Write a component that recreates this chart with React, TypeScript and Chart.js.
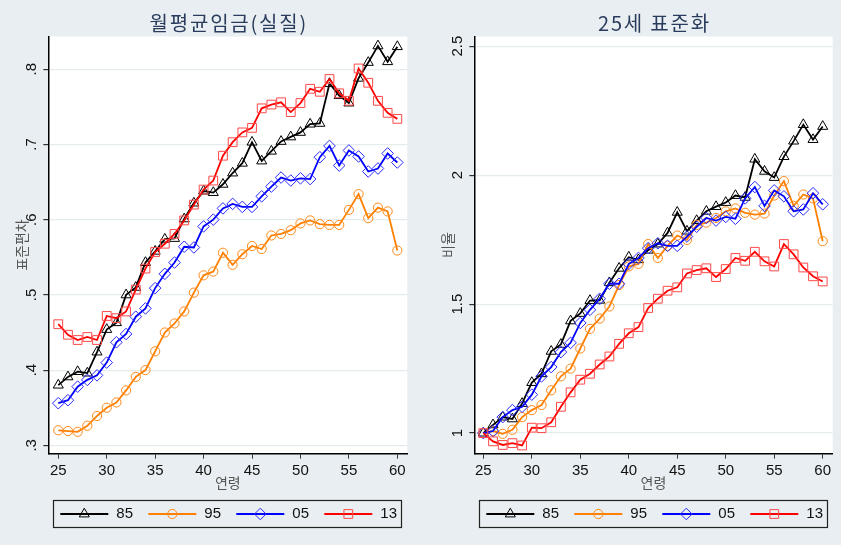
import React, { useEffect, useRef } from 'react';
import { Chart, registerables } from 'chart.js';

Chart.register(...registerables);

// ---------- data ----------
const ages = [25, 26, 27, 28, 29, 30, 31, 32, 33, 34, 35, 36, 37, 38, 39, 40, 41, 42, 43, 44, 45, 46, 47, 48, 49, 50, 51, 52, 53, 54, 55, 56, 57, 58, 59, 60];
const xTicks = [25, 30, 35, 40, 45, 50, 55, 60];

const seriesNames = ['85', '95', '05', '13'];

// left panel: 월평균임금(실질) 표준편차
const sd85 = [0.380, 0.391, 0.398, 0.396, 0.424, 0.454, 0.463, 0.500, 0.510, 0.543, 0.558, 0.574, 0.575, 0.601, 0.622, 0.638, 0.636, 0.647, 0.662, 0.675, 0.703, 0.678, 0.691, 0.704, 0.710, 0.716, 0.727, 0.728, 0.781, 0.765, 0.755, 0.788, 0.809, 0.831, 0.810, 0.830];
const sd95 = [0.320, 0.319, 0.318, 0.326, 0.339, 0.350, 0.357, 0.373, 0.391, 0.400, 0.425, 0.450, 0.462, 0.478, 0.503, 0.526, 0.531, 0.556, 0.540, 0.554, 0.565, 0.561, 0.579, 0.581, 0.586, 0.595, 0.599, 0.594, 0.593, 0.593, 0.613, 0.634, 0.602, 0.616, 0.611, 0.559];
const sd05 = [0.356, 0.360, 0.378, 0.387, 0.393, 0.410, 0.437, 0.448, 0.471, 0.482, 0.509, 0.528, 0.543, 0.564, 0.563, 0.591, 0.600, 0.615, 0.621, 0.617, 0.617, 0.631, 0.644, 0.656, 0.652, 0.655, 0.654, 0.683, 0.698, 0.672, 0.692, 0.684, 0.664, 0.668, 0.688, 0.676];
const sd13 = [0.461, 0.447, 0.440, 0.444, 0.440, 0.472, 0.469, 0.478, 0.507, 0.535, 0.557, 0.568, 0.581, 0.599, 0.620, 0.640, 0.652, 0.685, 0.703, 0.716, 0.722, 0.748, 0.753, 0.756, 0.743, 0.755, 0.774, 0.770, 0.787, 0.768, 0.758, 0.801, 0.782, 0.758, 0.742, 0.734];

// right panel: 25세 표준화 비율
const r85 = [1.000, 1.032, 1.062, 1.055, 1.115, 1.196, 1.230, 1.317, 1.344, 1.435, 1.464, 1.514, 1.515, 1.583, 1.639, 1.682, 1.672, 1.709, 1.733, 1.776, 1.856, 1.783, 1.824, 1.860, 1.878, 1.894, 1.921, 1.914, 2.062, 2.015, 1.991, 2.072, 2.132, 2.196, 2.138, 2.189];
const r95 = [1.000, 1.008, 0.997, 1.013, 1.062, 1.089, 1.109, 1.166, 1.220, 1.250, 1.328, 1.404, 1.444, 1.491, 1.574, 1.646, 1.656, 1.733, 1.679, 1.726, 1.766, 1.749, 1.807, 1.816, 1.834, 1.860, 1.871, 1.854, 1.847, 1.851, 1.921, 1.977, 1.881, 1.925, 1.910, 1.744];
const r05 = [1.000, 1.008, 1.062, 1.089, 1.102, 1.149, 1.220, 1.256, 1.314, 1.350, 1.427, 1.478, 1.521, 1.579, 1.579, 1.656, 1.679, 1.717, 1.736, 1.726, 1.726, 1.762, 1.800, 1.834, 1.824, 1.838, 1.831, 1.910, 1.954, 1.881, 1.941, 1.918, 1.860, 1.867, 1.930, 1.887];
const r13 = [1.000, 0.968, 0.954, 0.961, 0.952, 1.021, 1.019, 1.042, 1.102, 1.158, 1.207, 1.230, 1.266, 1.297, 1.346, 1.387, 1.411, 1.485, 1.521, 1.552, 1.565, 1.619, 1.632, 1.639, 1.605, 1.636, 1.679, 1.668, 1.703, 1.666, 1.646, 1.733, 1.693, 1.642, 1.608, 1.588];

const leftYTicks = [0.3, 0.4, 0.5, 0.6, 0.7, 0.8];
const leftYTickLabels = ['.3', '.4', '.5', '.6', '.7', '.8'];
const rightYTicks = [1, 1.5, 2, 2.5];
const rightYTickLabels = ['1', '1.5', '2', '2.5'];

// ---------- styles ----------
const BG = '#e8eef1';
const GRID = '#e4ecee';
const LINE_COLORS = ['#000000', '#ff8000', '#0000ff', '#ff0000'];
const MARKER_COLORS = ['#000000', '#ff8a1a', '#2a2aff', '#ff4848'];
const POINT_STYLES = ['triangle', 'circle', 'rectRot', 'rect'];
const POINT_RADII = [5.8, 4.6, 5.8, 6.2];
const NUM_FONT = '"Liberation Sans", Arial, sans-serif';
const KR_FONT = '"Noto Sans CJK KR", "Noto Sans", sans-serif';

function drawMarker(ctx: CanvasRenderingContext2D, style: string, x: number, y: number, r: number) {
  ctx.beginPath();
  if (style === 'triangle') {
    for (let k = 0; k < 3; k++) {
      const a = (k * 2 * Math.PI) / 3;
      const px = x + Math.sin(a) * r;
      const py = y - Math.cos(a) * r;
      if (k === 0) ctx.moveTo(px, py); else ctx.lineTo(px, py);
    }
    ctx.closePath();
  } else if (style === 'circle') {
    ctx.arc(x, y, r, 0, Math.PI * 2);
  } else if (style === 'rectRot') {
    ctx.moveTo(x, y - r);
    ctx.lineTo(x + r, y);
    ctx.lineTo(x, y + r);
    ctx.lineTo(x - r, y);
    ctx.closePath();
  } else {
    const s = r * Math.SQRT1_2;
    ctx.rect(x - s, y - s, 2 * s, 2 * s);
  }
  ctx.stroke();
}

type PanelProps = {
  width: number;
  title: string;
  yTitle: string;
  series: number[][];
  yMin: number;
  yMax: number;
  yTicks: number[];
  yTickLabels: string[];
  xMin: number;
  xMax: number;
  areaLeft: number;
  areaRight: number;
};

function Panel(props: PanelProps) {
  const ref = useRef<HTMLCanvasElement | null>(null);

  useEffect(() => {
    const canvas = ref.current;
    if (!canvas) return;
    const H = 545;
    const areaTop = 36.5;
    const areaBottom = 453.6;
    const xAxisH = 30;

    const panelPlugin = {
      id: 'panelPlugin',
      beforeDraw(chart: any) {
        const ctx = chart.ctx as CanvasRenderingContext2D;
        const ca = chart.chartArea;
        ctx.save();
        ctx.fillStyle = BG;
        ctx.fillRect(0, 0, chart.width, chart.height);
        ctx.fillStyle = '#ffffff';
        ctx.fillRect(ca.left, ca.top, ca.right - ca.left, ca.bottom - ca.top);
        ctx.restore();
      },
      afterDraw(chart: any) {
        const ctx = chart.ctx as CanvasRenderingContext2D;
        const ca = chart.chartArea;
        const cx = (ca.left + ca.right) / 2;
        ctx.save();
        // title
        ctx.fillStyle = '#2a3c5e';
        ctx.font = `20px ${KR_FONT}`;
        ctx.textAlign = 'center';
        ctx.textBaseline = 'middle';
        (ctx as any).letterSpacing = '1.8px';
        ctx.fillText(props.title, cx + 1, 23);
        (ctx as any).letterSpacing = '0px';

        // y tick labels (rotated)
        const ys = chart.scales.y;
        ctx.fillStyle = '#111111';
        ctx.font = `15px ${NUM_FONT}`;
        ys.ticks.forEach((t: any) => {
          const idx = props.yTicks.indexOf(t.value);
          const label = idx >= 0 ? props.yTickLabels[idx] : String(t.value);
          const py = ys.getPixelForValue(t.value);
          ctx.save();
          ctx.translate(ca.left - 16, py);
          ctx.rotate(-Math.PI / 2);
          ctx.textAlign = 'center';
          ctx.textBaseline = 'middle';
          ctx.fillText(label, 0, 0);
          ctx.restore();
        });

        // y title
        ctx.fillStyle = '#555555';
        ctx.font = `14px ${KR_FONT}`;
        ctx.save();
        ctx.translate(ca.left - 27, (ca.top + ca.bottom) / 2);
        ctx.rotate(-Math.PI / 2);
        ctx.textAlign = 'center';
        ctx.textBaseline = 'middle';
        ctx.fillText(props.yTitle, 0, 0);
        ctx.restore();

        // x title
        ctx.textAlign = 'center';
        ctx.textBaseline = 'middle';
        ctx.fillText('연령', cx, 483);

        // legend
        const lx = ca.left + 5;
        const ly = 500;
        const lw = 348;
        const lh = 27;
        ctx.strokeStyle = '#222222';
        ctx.lineWidth = 1.2;
        ctx.strokeRect(Math.round(lx) + 0.5, ly + 0.5, lw, lh);
        const my = ly + lh / 2 + 0.5;
        seriesNames.forEach((name, i) => {
          const x0 = lx + 7 + i * 88;
          ctx.strokeStyle = LINE_COLORS[i];
          ctx.lineWidth = 1.8;
          ctx.beginPath();
          ctx.moveTo(x0, my);
          ctx.lineTo(x0 + 48, my);
          ctx.stroke();
          ctx.strokeStyle = MARKER_COLORS[i];
          ctx.lineWidth = 1;
          drawMarker(ctx, POINT_STYLES[i], x0 + 24, my, POINT_RADII[i]);
          ctx.fillStyle = '#111111';
          ctx.font = `15px ${NUM_FONT}`;
          ctx.textAlign = 'left';
          ctx.textBaseline = 'middle';
          ctx.fillText(name, x0 + 56, my);
        });
        ctx.restore();
      },
    };

    const chart = new Chart(canvas, {
      type: 'line',
      data: {
        datasets: props.series.map((vals, i) => ({
          label: seriesNames[i],
          data: ages.map((a, j) => ({ x: a, y: vals[j] })),
          borderColor: LINE_COLORS[i],
          borderWidth: 1.8,
          pointStyle: POINT_STYLES[i],
          pointRadius: POINT_RADII[i],
          pointBorderColor: MARKER_COLORS[i],
          pointBackgroundColor: 'rgba(0,0,0,0)',
          pointBorderWidth: 1,
          tension: 0,
          order: 4 - i,
          clip: false,
        })),
      },
      options: {
        animation: false,
        responsive: false,
        maintainAspectRatio: false,
        events: [],
        layout: {
          padding: {
            left: 0,
            right: props.width - props.areaRight,
            top: areaTop,
            bottom: H - areaBottom - xAxisH,
          },
        },
        plugins: {
          legend: { display: false },
          title: { display: false },
          tooltip: { enabled: false },
        },
        scales: {
          x: {
            type: 'linear',
            min: props.xMin,
            max: props.xMax,
            afterBuildTicks: (s: any) => {
              s.ticks = xTicks.map((v) => ({ value: v }));
            },
            afterFit: (s: any) => {
              s.height = xAxisH;
            },
            grid: { drawOnChartArea: false, tickLength: 5, tickColor: '#333333', color: '#333333' },
            border: { color: '#000000', width: 1.5 },
            ticks: {
              font: { family: NUM_FONT, size: 15 },
              color: '#111111',
              padding: 3,
              maxRotation: 0,
              autoSkip: false,
              callback: (v: any) => String(v),
            },
          },
          y: {
            type: 'linear',
            min: props.yMin,
            max: props.yMax,
            afterBuildTicks: (s: any) => {
              s.ticks = props.yTicks.map((v) => ({ value: v }));
            },
            afterFit: (s: any) => {
              s.width = props.areaLeft;
            },
            grid: { color: GRID, tickColor: '#333333', tickLength: 5, lineWidth: 1.2 },
            border: { color: '#000000', width: 1.5 },
            ticks: { display: false },
          },
        },
      },
      plugins: [panelPlugin],
    } as any);

    return () => {
      chart.destroy();
    };
  }, []);

  return <canvas ref={ref} width={props.width} height={545} style={{ display: 'block', width: props.width, height: 545 }} />;
}

export default function App() {
  return (
    <div style={{ position: 'fixed', left: 0, top: 0, width: 841, height: 545, display: 'flex', background: BG }}>
      <Panel
        width={420}
        title="월평균임금(실질)"
        yTitle="표준편차"
        series={[sd85, sd95, sd05, sd13]}
        yMin={0.289}
        yMax={0.8435}
        yTicks={leftYTicks}
        yTickLabels={leftYTickLabels}
        xMin={23.97}
        xMax={61.03}
        areaLeft={48.3}
        areaRight={407.3}
      />
      <Panel
        width={421}
        title="25세 표준화"
        yTitle="비율"
        series={[r85, r95, r05, r13]}
        yMin={0.9205}
        yMax={2.5376}
        yTicks={rightYTicks}
        yTickLabels={rightYTickLabels}
        xMin={24.07}
        xMax={61.03}
        areaLeft={54.3}
        areaRight={412.7}
      />
    </div>
  );
}
